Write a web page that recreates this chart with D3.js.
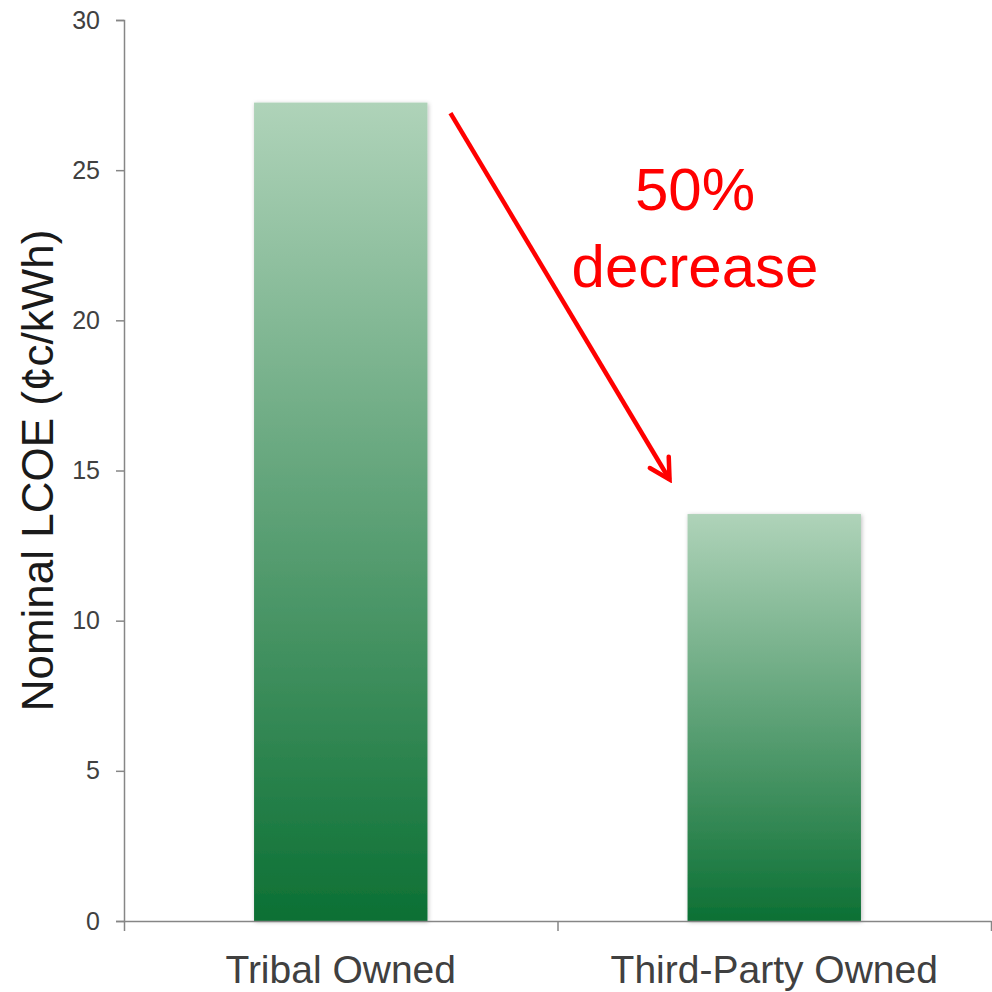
<!DOCTYPE html>
<html>
<head>
<meta charset="utf-8">
<script src="https://cdn.jsdelivr.net/npm/d3@7"></script>
<style>
  body { margin: 0; background: #fff; }
</style>
</head>
<body>
<div class="canvas"></div>
<script>
const categories = ["Tribal Owned", "Third-Party Owned"];
const values = [27.25, 13.55];
const yTicks = [0, 5, 10, 15, 20, 25, 30];
const yTitle = "Nominal LCOE (\u00a2c/kWh)";
const noteLines = ["50%", "decrease"];

const width = 992;
const height = 992;
const margin = { top: 20, right: 1, bottom: 71, left: 124 };

const svg = d3
  .select(".canvas")
  .append("svg")
  .attr("width", width)
  .attr("height", height);

const defs = svg.append("defs");

// bar gradient, light at top to dark green at bottom
const grad = defs
  .append("linearGradient")
  .attr("id", "barGrad")
  .attr("x1", 0).attr("y1", 0)
  .attr("x2", 0).attr("y2", 1);
grad.append("stop").attr("offset", "0%").attr("stop-color", "#afd3b9");
grad.append("stop").attr("offset", "100%").attr("stop-color", "#0c7034");

const shadow = defs.append("filter").attr("id", "shadow")
  .attr("x", "-10%").attr("y", "-10%").attr("width", "120%").attr("height", "120%");
shadow.append("feDropShadow")
  .attr("dx", 1).attr("dy", 1).attr("stdDeviation", 2)
  .attr("flood-color", "#000").attr("flood-opacity", 0.25);

//open V arrow head, drawn in user units
defs.append("marker")
  .attr("id", "arrowHead")
  .attr("viewBox", "-26 -16 30 32")
  .attr("refX", 0).attr("refY", 0)
  .attr("markerWidth", 30).attr("markerHeight", 32)
  .attr("markerUnits", "userSpaceOnUse")
  .attr("orient", "auto")
  .append("path")
  .attr("d", "M-20,-11 L0,0 L-20,11")
  .attr("fill", "none")
  .attr("stroke", "#ff0000")
  .attr("stroke-width", 4.5)
  .attr("stroke-linecap", "round")
  .attr("stroke-linejoin", "miter");

//scales
const x = d3
  .scaleBand()
  .domain(categories)
  .range([margin.left, width - margin.right])
  .padding(0);
const y = d3
  .scaleLinear()
  .domain([0, 30])
  .range([height - margin.bottom, margin.top]);

const barW = x.bandwidth() * 0.4;

//y axis
const yAxisGroup = svg
  .append("g")
  .attr("transform", `translate(${margin.left},0)`)
  .call(d3.axisLeft(y).tickValues(yTicks).tickSize(8).tickPadding(16));
yAxisGroup.select(".domain").attr("stroke", "#868686").attr("stroke-width", 1.5);
yAxisGroup.selectAll(".tick line").attr("stroke", "#868686").attr("stroke-width", 1.5);
yAxisGroup
  .selectAll(".tick text")
  .attr("fill", "#404040")
  .attr("font-family", "'Liberation Sans', Arial, sans-serif")
  .attr("font-size", 25);

//bars
svg
  .selectAll("rect.bar")
  .data(values)
  .enter()
  .append("rect")
  .attr("class", "bar")
  .attr("x", (d, i) => x(categories[i]) + (x.bandwidth() - barW) / 2)
  .attr("y", (d) => y(d))
  .attr("width", barW)
  .attr("height", (d) => y(0) - y(d))
  .attr("fill", "url(#barGrad)")
  .attr("filter", "url(#shadow)");

//x axis, ticks on category boundaries
const xb = d3.scaleLinear().domain([0, categories.length]).range(x.range());
const xAxisGroup = svg
  .append("g")
  .attr("transform", `translate(0,${y(0)})`)
  .call(
    d3.axisBottom(xb)
      .tickValues(d3.range(categories.length + 1))
      .tickSize(10)
      .tickFormat("")
      .tickSizeOuter(0)
  );
xAxisGroup.select(".domain").attr("stroke", "#868686").attr("stroke-width", 1.5);
xAxisGroup.selectAll(".tick line").attr("stroke", "#868686").attr("stroke-width", 1.5);

svg
  .selectAll("text.cat")
  .data(categories)
  .enter()
  .append("text")
  .attr("class", "cat")
  .attr("x", (d) => x(d) + x.bandwidth() / 2)
  .attr("y", 983)
  .attr("text-anchor", "middle")
  .attr("fill", "#404040")
  .style("font-family", "'Liberation Sans Narrow', 'Arial Narrow', sans-serif")
  .style("font-size", "39px")
  .text((d) => d);

//y title
svg
  .append("text")
  .attr("transform", `translate(53,${(y(0) + y(30)) / 2}) rotate(-90)`)
  .attr("text-anchor", "middle")
  .attr("fill", "#1a1a1a")
  .style("font-family", "'Liberation Sans', Arial, sans-serif")
  .style("font-size", "44px")
  .text(yTitle);

//arrow from first bar down to second
const arrowStart = { v: 26.9 };
const arrowEnd = { v: 14.7 };
svg
  .append("line")
  .attr("x1", x(categories[0]) + x.bandwidth() / 2 + barW / 2 + 23)
  .attr("y1", y(arrowStart.v))
  .attr("x2", x(categories[1]) + (x.bandwidth() - barW) / 2 - 18)
  .attr("y2", y(arrowEnd.v))
  .attr("stroke", "#ff0000")
  .attr("stroke-width", 4.5)
  .attr("marker-end", "url(#arrowHead)");

const note = svg
  .append("text")
  .attr("text-anchor", "middle")
  .attr("fill", "#ff0000")
  .style("font-family", "'Liberation Sans', Arial, sans-serif")
  .style("font-size", "60px");
note
  .selectAll("tspan")
  .data(noteLines)
  .enter()
  .append("tspan")
  .attr("x", 695)
  .attr("y", (d, i) => 210 + i * 77)
  .text((d) => d);
</script>
</body>
</html>
